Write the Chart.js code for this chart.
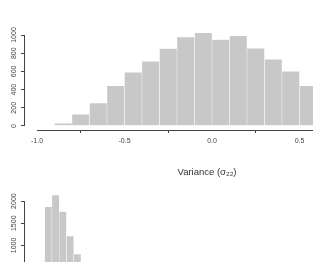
<html>
  <head>
    <script src="https://cdn.jsdelivr.net/npm/chart.js@4"></script>
    <title>variance_hist</title>
    <style>
      body { margin:0; overflow:hidden; background:#fff; }
      canvas { position:absolute; left:0; }
    </style>
  </head>
  <body>
    <canvas id="topChart" width="400" height="180" style="top:0"></canvas>
    <canvas id="botChart" width="400" height="130" style="top:180px"></canvas>
    <script>
// top histogram: bin left edges (width 0.1) and counts
const topBins   = [-0.9, -0.8, -0.7, -0.6, -0.5, -0.4, -0.3, -0.2, -0.1, 0.0, 0.1, 0.2, 0.3, 0.4, 0.5];
const topCounts = [30, 127, 253, 442, 590, 710, 851, 978, 1025, 949, 992, 855, 732, 601, 442];
const topXTicks = [-1.0, -0.5, 0.0, 0.5, 1.0];
const topYTicks = [0, 200, 400, 600, 800, 1000];

// bottom histogram (only the upper part is visible)
const botBins   = [0.2, 0.4, 0.6, 0.8, 1.0];
const botCounts = [1873, 2138, 1761, 1212, 806];
const botYTicks = [0, 500, 1000, 1500, 2000];

const xTitle = 'Variance (σ₂₂)';

const FONT = '"Liberation Sans", Arial, Helvetica, sans-serif';
const BAR = '#c8c8c8';
const AXIS = '#444';

// R style axis lines, only over the tick range
const rAxes = {
  id: 'rAxes',
  afterDraw(chart, args, opts) {
    const ctx = chart.ctx, a = chart.chartArea;
    ctx.save();
    ctx.strokeStyle = AXIS;
    ctx.lineWidth = 1;
    ctx.beginPath();
    if (opts.x) {
      const py = Math.round(a.bottom - 0.5) + 0.5;
      ctx.moveTo(chart.scales.x.getPixelForValue(opts.x[0]), py);
      ctx.lineTo(chart.scales.x.getPixelForValue(opts.x[1]), py);
    }
    if (opts.y) {
      const px = Math.round(a.left - 0.5) + 0.5;
      ctx.moveTo(px, chart.scales.y.getPixelForValue(opts.y[0]));
      ctx.lineTo(px, chart.scales.y.getPixelForValue(opts.y[1]));
    }
    ctx.stroke();
    ctx.restore();
  }
};

function yScale(min, max, ticks) {
  return {
    min: min, max: max,
    afterBuildTicks: s => { s.ticks = ticks.map(v => ({value: v})); },
    afterFit: s => { s.width = 24; },
    border: { display: false },
    grid: { drawOnChartArea: false, drawTicks: true, tickLength: 3, color: AXIS },
    ticks: { minRotation: 90, maxRotation: 90, crossAlign: 'center', padding: -1,
             color: AXIS, font: { family: FONT, size: 7 }, callback: v => String(v) }
  };
}

function histSet(bins, counts, w) {
  return {
    data: bins.map((b, i) => ({ x: b + w / 2, y: counts[i] })),
    backgroundColor: BAR,
    borderColor: '#fff',
    borderWidth: 0.5,
    borderSkipped: false,
    barPercentage: 1,
    categoryPercentage: 1
  };
}

new Chart(document.getElementById('topChart'), {
  type: 'bar',
  data: { datasets: [histSet(topBins, topCounts, 0.1)] },
  options: {
    responsive: false,
    animation: false,
    layout: { padding: { top: 20, right: 10, left: 0, bottom: 0 } },
    plugins: { legend: { display: false }, tooltip: { enabled: false },
               rAxes: { x: [-1.0, 1.0], y: [0, 1000] } },
    scales: {
      x: {
        type: 'linear', offset: false,
        min: -1.0743, max: 1.0171,
        afterBuildTicks: s => { s.ticks = topXTicks.map(v => ({value: v})); },
        afterFit: s => { s.height = 50; },
        border: { display: false },
        grid: { drawOnChartArea: false, drawTicks: true, tickLength: 3, color: AXIS },
        ticks: { padding: 4, maxRotation: 0, color: AXIS, font: { family: FONT, size: 7 },
                 callback: v => v.toFixed(1) },
        title: { display: true, text: xTitle, color: '#333', padding: { top: 0, bottom: 2 },
                 font: { family: FONT, size: 9.5 } }
      },
      y: yScale(-44, 1165, topYTicks)
    }
  },
  plugins: [rAxes]
});

new Chart(document.getElementById('botChart'), {
  type: 'bar',
  data: { datasets: [histSet(botBins, botCounts, 0.2)] },
  options: {
    responsive: false,
    animation: false,
    layout: { padding: { top: 10, right: 10, left: 0, bottom: 16 } },
    plugins: { legend: { display: false }, tooltip: { enabled: false },
               rAxes: { y: [0, 2000] } },
    scales: {
      x: { type: 'linear', offset: false, min: -0.371, max: 9.725, display: false },
      y: yScale(-97, 2251, botYTicks)
    }
  },
  plugins: [rAxes]
});
    </script>
  </body>
</html>
